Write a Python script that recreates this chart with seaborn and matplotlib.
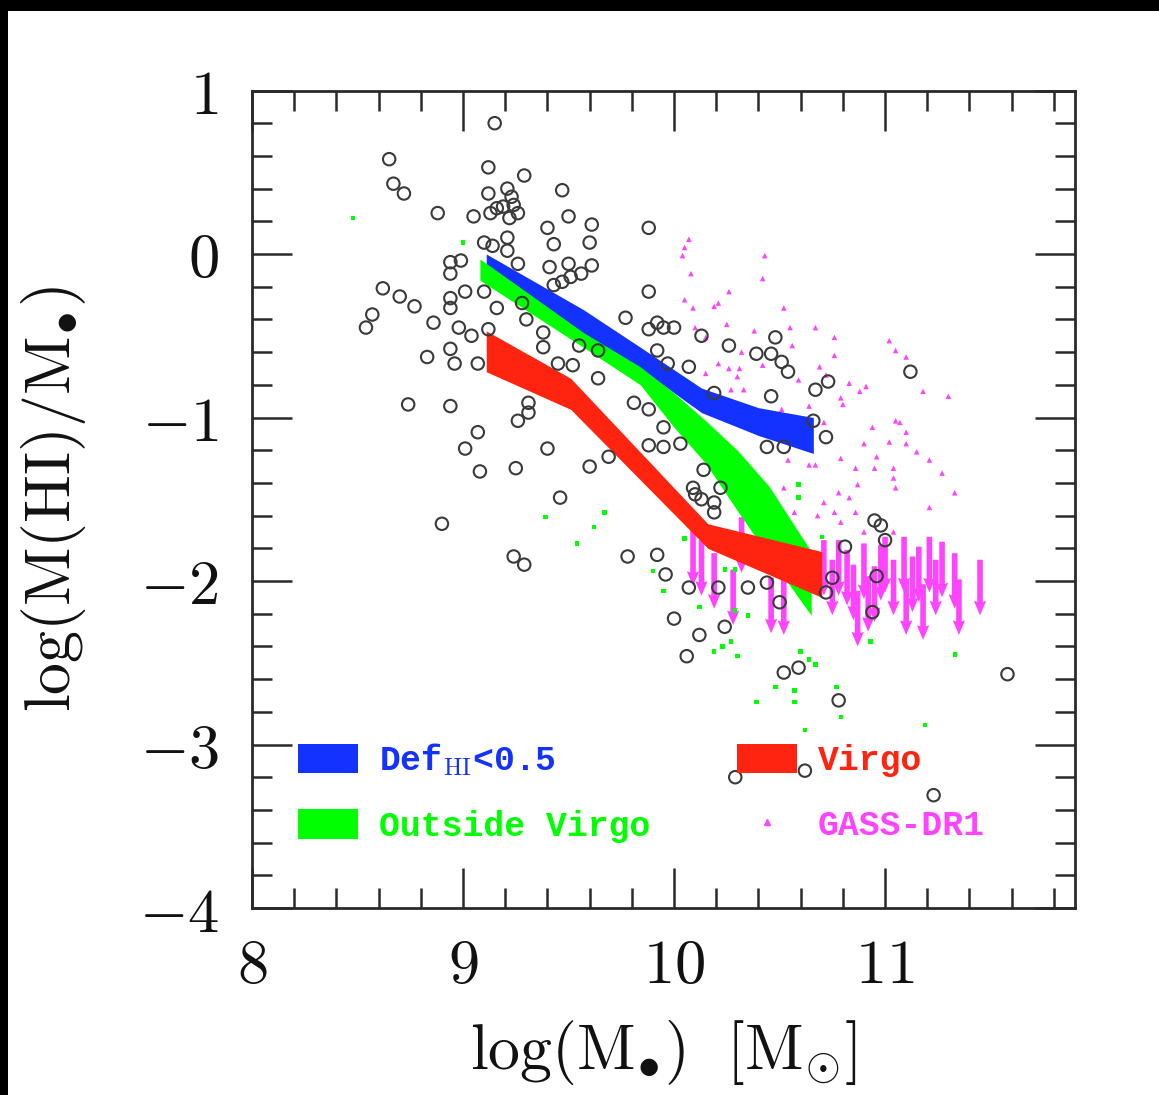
import numpy as np
import pandas as pd
import matplotlib
matplotlib.use("Agg")
import matplotlib.pyplot as plt
import seaborn as sns
from matplotlib.patches import Patch, Rectangle
from matplotlib.lines import Line2D
from matplotlib.ticker import MultipleLocator, FuncFormatter

# ---------------- data ----------------
circ_x = [9.15, 8.65, 9.12, 9.29, 8.67, 8.72, 9.12, 9.21, 9.23, 9.47,
          9.24, 9.19, 9.16, 9.13, 9.26, 9.22, 9.05, 8.88, 9.50, 9.61,
          9.40, 9.88, 9.21, 9.43, 9.60, 9.10, 9.14, 9.21, 8.94, 8.99,
          8.94, 9.26, 9.41, 9.50, 9.61, 9.56, 9.51, 9.47, 9.43, 9.88,
          8.62, 8.70, 8.77, 9.01, 9.10, 8.94, 8.94, 9.16, 9.28, 8.57,
          8.54, 8.86, 8.98, 9.04, 9.12, 9.30, 9.38, 9.77, 9.88, 9.92,
          9.95, 8.83, 8.94, 8.96, 9.07, 9.38, 9.55, 9.45, 9.52, 9.64,
          9.64, 9.92, 8.74, 8.94, 9.31, 9.31, 9.26, 9.81, 9.88, 9.95,
          9.07, 9.01, 9.40, 9.69, 9.60, 9.08, 9.25, 9.88, 9.95, 9.46,
          10.00, 10.13, 10.26, 10.48, 10.39, 10.46, 10.51, 10.54, 11.12, 10.73,
          10.67, 10.07, 9.97, 10.19, 10.46, 10.66, 10.72, 10.44, 10.52, 10.03,
          10.14, 10.09, 10.22, 10.19, 10.19, 10.10, 10.13, 10.95, 10.98, 11.00,
          10.81, 9.92, 9.96, 10.75, 10.96, 10.07, 10.21, 10.35, 10.44, 10.50,
          10.72, 10.94, 10.00, 10.12, 10.24, 10.06, 10.52, 10.59, 10.78, 11.58,
          10.29, 10.62, 11.23, 8.90, 9.24, 9.29, 9.78]
circ_y = [0.80, 0.58, 0.53, 0.48, 0.43, 0.37, 0.37, 0.40, 0.35, 0.39,
          0.30, 0.29, 0.28, 0.25, 0.25, 0.22, 0.23, 0.25, 0.23, 0.18,
          0.16, 0.16, 0.10, 0.06, 0.07, 0.07, 0.05, 0.02, -0.05, -0.04,
          -0.12, -0.06, -0.08, -0.06, -0.07, -0.12, -0.14, -0.17, -0.19, -0.23,
          -0.21, -0.26, -0.32, -0.23, -0.23, -0.27, -0.33, -0.33, -0.30, -0.37,
          -0.45, -0.42, -0.45, -0.50, -0.46, -0.40, -0.48, -0.39, -0.46, -0.42,
          -0.45, -0.63, -0.58, -0.67, -0.67, -0.57, -0.56, -0.67, -0.68, -0.76,
          -0.59, -0.59, -0.92, -0.93, -0.91, -0.97, -1.02, -0.91, -0.95, -1.06,
          -1.09, -1.19, -1.19, -1.24, -1.30, -1.33, -1.31, -1.17, -1.18, -1.49,
          -0.45, -0.50, -0.56, -0.51, -0.61, -0.61, -0.66, -0.72, -0.72, -0.78,
          -0.83, -0.69, -0.67, -0.85, -0.87, -1.02, -1.12, -1.18, -1.18, -1.16,
          -1.32, -1.43, -1.43, -1.52, -1.58, -1.47, -1.50, -1.63, -1.66, -1.75,
          -1.79, -1.84, -1.96, -1.98, -1.97, -2.04, -2.04, -2.04, -2.01, -2.13,
          -2.07, -2.19, -2.23, -2.33, -2.28, -2.46, -2.56, -2.53, -2.73, -2.57,
          -3.20, -3.16, -3.31, -1.65, -1.85, -1.90, -1.85]

green_x = [8.48, 9.00, 9.39, 9.67, 9.62, 9.54, 9.90, 9.95, 10.05, 10.12,
           10.29, 10.35, 10.59, 10.59, 10.70, 10.19, 10.23, 10.27, 10.30, 10.60,
           10.64, 10.67, 10.48, 10.57, 10.77, 10.39, 10.57, 10.79, 10.62, 11.19,
           10.93, 11.33, 10.24, 10.29]
green_y = [0.22, 0.07, -1.61, -1.58, -1.67, -1.77, -1.94, -2.06, -1.74, -2.16,
           -2.18, -2.21, -1.41, -1.49, -1.73, -2.43, -2.40, -2.37, -2.46, -2.43,
           -2.48, -2.51, -2.65, -2.67, -2.65, -2.74, -2.74, -2.83, -2.91, -2.88,
           -2.37, -2.45, -1.93, -1.93]

gass_x = [10.07, 10.05, 10.04, 10.08, 10.43, 10.42, 10.26, 10.05, 10.09, 10.19,
          10.21, 10.52, 10.25, 10.10, 10.55, 10.67, 10.38, 10.76, 11.02, 11.05,
          11.10, 10.76, 10.32, 10.56, 10.15, 10.21, 10.26, 10.31, 10.30, 10.15,
          10.42, 10.69, 10.59, 10.72, 10.79, 10.80, 10.83, 10.88, 10.91, 11.18,
          11.30, 10.27, 10.33, 10.64, 10.51, 10.71, 10.94, 11.05, 11.07, 11.10,
          11.02, 11.10, 11.15, 11.21, 11.27, 10.90, 10.96, 10.79, 10.86, 10.95,
          11.04, 11.04, 11.05, 10.87, 10.78, 10.83, 11.33, 10.54, 10.64, 10.67,
          10.52, 10.71, 11.21, 10.76, 10.79, 10.68, 10.57, 10.86, 10.90, 11.04]
gass_y = [0.09, 0.04, -0.01, -0.12, -0.01, -0.15, -0.23, -0.28, -0.33, -0.32,
          -0.30, -0.33, -0.43, -0.45, -0.45, -0.45, -0.47, -0.51, -0.53, -0.59,
          -0.63, -0.62, -0.60, -0.56, -0.51, -0.67, -0.70, -0.70, -0.75, -0.73,
          -0.68, -0.69, -0.77, -0.74, -0.88, -0.92, -0.79, -0.84, -0.81, -0.84,
          -0.87, -0.83, -0.83, -0.93, -0.95, -1.03, -1.06, -1.02, -1.03, -1.09,
          -1.15, -1.16, -1.21, -1.26, -1.34, -1.16, -1.24, -1.25, -1.31, -1.31,
          -1.31, -1.37, -1.43, -1.41, -1.46, -1.49, -1.46, -1.26, -1.29, -1.29,
          -1.43, -1.52, -1.55, -1.58, -1.64, -1.60, -1.58, -1.58, -1.70, -1.70]

# GASS upper limits (arrow tops)
ul_x = [10.09, 10.13, 10.19, 10.28, 10.32, 10.46, 10.52, 10.71, 10.75, 10.78,
        10.82, 10.85, 10.87, 10.90, 10.92, 10.95, 10.98, 11.00, 11.04, 11.09,
        11.10, 11.13, 11.16, 11.18, 11.21, 11.24, 11.27, 11.33, 11.35, 11.45]
ul_y = [-1.69, -1.75, -1.83, -1.93, -1.61, -1.98, -1.99, -1.75, -1.87, -1.75,
        -1.81, -1.90, -2.06, -1.77, -1.97, -1.91, -1.78, -1.73, -1.87, -1.73,
        -1.99, -1.85, -1.79, -2.02, -1.73, -1.87, -1.76, -1.83, -1.99, -1.87]
ul_len = 0.34

# median bands
blue_x = [9.11, 9.57, 9.84, 10.13, 10.40, 10.66]
blue_hi = [0.00, -0.34, -0.57, -0.82, -0.94, -1.00]
blue_lo = [-0.15, -0.50, -0.70, -0.97, -1.11, -1.22]

grn_x = [9.08, 9.57, 9.84, 10.00, 10.15, 10.30, 10.45, 10.65]
grn_hi = [-0.03, -0.48, -0.69, -0.85, -1.02, -1.20, -1.42, -1.82]
grn_lo = [-0.16, -0.57, -0.80, -1.06, -1.28, -1.57, -1.85, -2.21]

red_x = [9.11, 9.51, 10.16, 10.70]
red_hi = [-0.47, -0.76, -1.65, -1.82]
red_lo = [-0.72, -0.95, -1.80, -2.10]

labels = ["Def$_{\\mathrm{HI}}$<0.5", "Outside Virgo", "Virgo", "GASS-DR1"]
x_ticks = [8, 9, 10, 11]
y_ticks = [-4, -3, -2, -1, 0, 1]

# ---------------- styling ----------------
C_BLUE = "#1432ff"
C_GREEN = "#00ff00"
C_RED = "#ff2410"
C_MAG = "#ff44ff"
C_AX = "#2a2a2a"

sns.set_theme(style="ticks")
plt.rcParams.update({
    "mathtext.fontset": "cm",
    "axes.linewidth": 2.0,
    "axes.edgecolor": C_AX,
})

fig = plt.figure(figsize=(11.59, 10.95), dpi=100)
fig.patch.set_facecolor("white")
ax = fig.add_axes([252 / 1159, 1 - 908 / 1095, 823 / 1159, 817.5 / 1095])

circ = pd.DataFrame({"x": circ_x, "y": circ_y})
grn = pd.DataFrame({"x": green_x, "y": green_y})
gass = pd.DataFrame({"x": gass_x, "y": gass_y})

sns.scatterplot(data=gass, x="x", y="y", ax=ax, marker="^", s=16,
                color=C_MAG, edgecolor="none", linewidth=0, zorder=2)
ax.quiver(ul_x, ul_y, np.zeros(len(ul_x)), -ul_len * np.ones(len(ul_x)),
          angles="xy", scale_units="xy", scale=1, color=C_MAG,
          width=0.0068, headwidth=2.2, headlength=2.6, headaxislength=2.4,
          zorder=2)
sns.scatterplot(data=grn, x="x", y="y", ax=ax, marker="s", s=10,
                color=C_GREEN, edgecolor="none", linewidth=0, zorder=2)

ax.fill_between(blue_x, blue_lo, blue_hi, color=C_BLUE, lw=0, zorder=3)
ax.fill_between(grn_x, grn_lo, grn_hi, color=C_GREEN, lw=0, zorder=3)
ax.fill_between(red_x, red_lo, red_hi, color=C_RED, lw=0, zorder=3)

sns.scatterplot(data=circ, x="x", y="y", ax=ax, marker="o", s=80,
                facecolor="none", edgecolor="#3a3a3a", linewidth=1.5,
                zorder=4)

ax.set_xlim(8, 11.9)
ax.set_ylim(-4, 1)
ax.set_xticks(x_ticks)
ax.set_yticks(y_ticks)
ax.xaxis.set_minor_locator(MultipleLocator(0.2))
ax.yaxis.set_minor_locator(MultipleLocator(0.2))
fmt = FuncFormatter(lambda v, p: "$%d$" % int(round(v)))
ax.xaxis.set_major_formatter(fmt)
ax.yaxis.set_major_formatter(fmt)
ax.tick_params(which="both", direction="in", top=True, right=True,
               color=C_AX, width=1.8)
ax.tick_params(which="major", length=28.8)
ax.tick_params(which="minor", length=14.4)
ax.tick_params(axis="x", which="major", labelsize=45, pad=20, labelcolor="#111")
ax.tick_params(axis="y", which="major", labelsize=45, pad=24, labelcolor="#111")

ax.set_xlabel(r"$\mathrm{log(M}_{\bullet}\mathrm{)\ \ [M}_{\odot}\mathrm{]}$",
              fontsize=46, color="#111")
ax.set_ylabel(r"$\mathrm{log(M(HI)/M}_{\bullet}\mathrm{)}$",
              fontsize=46, color="#111")
ax.xaxis.set_label_coords(0.5, -0.135)
ax.yaxis.set_label_coords(-0.199, 0.5)
for s in ax.spines.values():
    s.set_visible(True)
    s.set_color(C_AX)
    s.set_linewidth(2.0)

handles = [Patch(facecolor=C_BLUE, edgecolor="none"),
           Patch(facecolor=C_GREEN, edgecolor="none"),
           Patch(facecolor=C_RED, edgecolor="none"),
           Line2D([], [], marker="^", color=C_MAG, linestyle="none",
                  markersize=5)]
leg = ax.legend(handles, labels, ncol=2, loc="upper left",
                bbox_to_anchor=(0.056, 0.204), borderaxespad=0, borderpad=0,
                frameon=False, handlelength=1.73, handleheight=0.92,
                handletextpad=0.6, columnspacing=2.5, labelspacing=0.9,
                labelcolor=[C_BLUE, C_GREEN, C_RED, C_MAG],
                prop={"family": "Liberation Mono", "weight": "bold", "size": 25})
leg.set_zorder(6)

# black frame strips of the original screenshot
fig.add_artist(Rectangle((0, 1 - 11 / 1095), 1, 11 / 1095,
                         transform=fig.transFigure, facecolor="black",
                         edgecolor="none"))
fig.add_artist(Rectangle((0, 0), 8 / 1159, 1, transform=fig.transFigure,
                         facecolor="black", edgecolor="none"))

fig.savefig("out.png", dpi=100)
